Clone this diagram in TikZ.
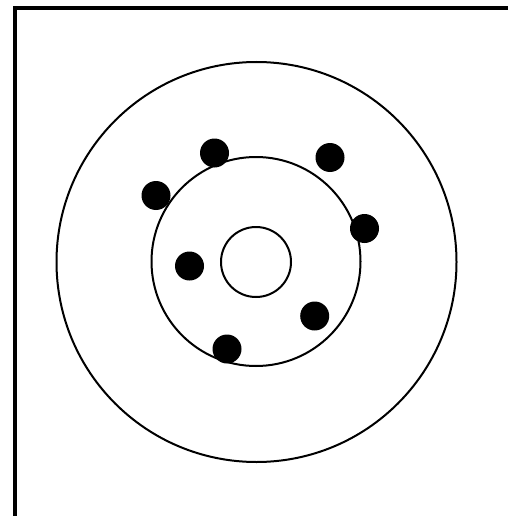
\documentclass[tikz,border=0pt]{standalone}
\begin{document}
\begin{tikzpicture}[x=1pt,y=-1pt,
  ring/.style={draw=black,line width=2pt},
  dot/.style={fill=black},
  frame/.style={draw=black,line width=4pt}]
\useasboundingbox[fill=white] (0,0) rectangle (508,516);
\coordinate (c) at (256.5,262);
\draw[frame] (15,516) -- (15,8) -- (508,8);
\draw[ring] (c) circle[radius=200];
\draw[ring] (256,261.5) circle[radius=104.5];
\draw[ring] (256,262) circle[radius=35];
\foreach \x/\y in {214.5/153, 330/157.5, 156/195.5, 364.5/228.5, 189.5/266, 314.7/316, 227/349}
  \fill[dot] (\x,\y) circle[radius=14.5];
\end{tikzpicture}
\end{document}
